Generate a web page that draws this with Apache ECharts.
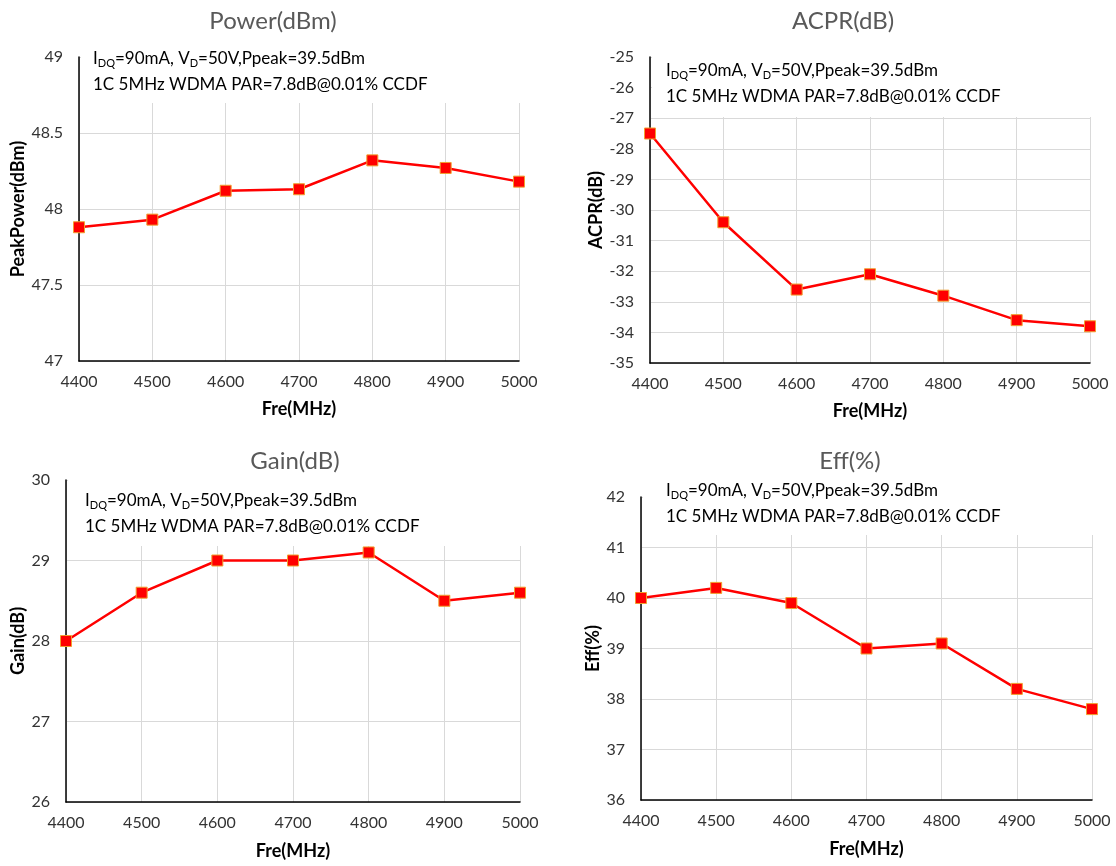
<!DOCTYPE html>
<html><head><meta charset="utf-8">
<script src="https://cdn.jsdelivr.net/npm/echarts@6/dist/echarts.min.js"></script>
<style>html,body{margin:0;padding:0;background:#fff}#c{width:1116px;height:866px}</style>
</head><body><div id="c"></div>
<script>
const freq = [4400, 4500, 4600, 4700, 4800, 4900, 5000];
const power = [47.88, 47.93, 48.12, 48.13, 48.32, 48.27, 48.18];
const acpr = [-27.5, -30.4, -32.6, -32.1, -32.8, -33.6, -33.8];
const gain = [28.0, 28.6, 29.0, 29.0, 29.1, 28.5, 28.6];
const eff = [40.0, 40.2, 39.9, 39.0, 39.1, 38.2, 37.8];
const titles = ['Power(dBm)', 'ACPR(dB)', 'Gain(dB)', 'Eff(%)'];
const yNames = ['PeakPower(dBm)', 'ACPR(dB)', 'Gain(dB)', 'Eff(%)'];
const yRanges = [[47, 49, 0.5], [-35, -25, 1], [26, 30, 1], [36, 42, 1]];
const xName = 'Fre(MHz)';
const note1 = ['I', 'DQ', '=90mA, V', 'D', '=50V,Ppeak=39.5dBm'];
const note2 = '1C 5MHz WDMA PAR=7.8dB@0.01% CCDF';

const FONT = 'Lato';
const grids = [
  {left: 79, top: 57, width: 440, height: 304},
  {left: 650, top: 57, width: 440, height: 306},
  {left: 66, top: 480, width: 454, height: 322},
  {left: 641, top: 497, width: 451, height: 303}
];
const yNameGaps = [52, 43, 39, 36];
const xNameGaps = [39, 39, 40, 40];
const titleX = [268, 838, 290, 845];
const titleY = [4, 4, 444, 444];
const notePos = [[93, 46], [666, 58], [85, 488], [666, 478]];
const maskBox = [[81, 40, 445, 63], [652, 50, 445, 67], [68, 470, 458, 76], [643, 465, 455, 70]];
const series = [power, acpr, gain, eff];

const option = {
  animation: false,
  title: titles.map((t, i) => ({
    text: t, left: titleX[i], top: titleY[i], textAlign: 'center',
    textStyle: {fontFamily: FONT, fontSize: 24, fontWeight: 'normal', color: '#595959'}
  })),
  grid: grids.map(g => Object.assign({containLabel: false}, g)),
  xAxis: grids.map((g, i) => ({
    gridIndex: i, type: 'value', min: 4400, max: 5000, interval: 100,
    name: xName, nameLocation: 'middle', nameGap: xNameGaps[i],
    nameTextStyle: {fontFamily: FONT, fontSize: 18, fontWeight: 'bold', color: '#000'},
    axisLine: {show: true, onZero: false, lineStyle: {color: '#000', width: 1.5}},
    axisTick: {show: false},
    axisLabel: {fontFamily: FONT, fontSize: 16, color: '#333', margin: 13, formatter: v => String(v)},
    splitLine: {show: true, lineStyle: {color: '#d9d9d9', width: 1}}
  })),
  yAxis: grids.map((g, i) => ({
    gridIndex: i, type: 'value', min: yRanges[i][0], max: yRanges[i][1], interval: yRanges[i][2],
    name: yNames[i], nameLocation: 'middle', nameGap: yNameGaps[i],
    nameTextStyle: {fontFamily: FONT, fontSize: 18, fontWeight: 'bold', color: '#000'},
    axisLine: {show: true, onZero: false, lineStyle: {color: '#000', width: 1.5}},
    axisTick: {show: false},
    axisLabel: {fontFamily: FONT, fontSize: 16, color: '#333', margin: 16, formatter: v => String(v)},
    splitLine: {show: true, lineStyle: {color: '#d9d9d9', width: 1}}
  })),
  graphic: notePos.map((p, i) => ({
    type: 'group', z: 1,
    children: [
      {type: 'rect', shape: {x: maskBox[i][0], y: maskBox[i][1], width: maskBox[i][2], height: maskBox[i][3]}, style: {fill: '#fff'}, z: 1},
      {type: 'text', x: p[0], y: p[1], z: 1, style: {
        rich: {
          n: {fontFamily: FONT, fontSize: 17, fill: '#000', lineHeight: 26},
          s: {fontFamily: FONT, fontSize: 11, fill: '#000', padding: [8, 0, 0, 0], lineHeight: 26}
        },
        text: '{n|' + note1[0] + '}{s|' + note1[1] + '}{n|' + note1[2] + '}{s|' + note1[3] + '}{n|' + note1[4] + '}\n{n|' + note2 + '}'
      }}
    ]
  })),
  series: series.map((d, i) => ({
    type: 'line', xAxisIndex: i, yAxisIndex: i,
    data: freq.map((f, k) => [f, d[k]]),
    symbol: 'rect', symbolSize: 11,
    lineStyle: {color: '#ff0000', width: 2.5},
    itemStyle: {color: '#ff0000', borderColor: '#f0a030', borderWidth: 1},
    z: 3
  }))
};
echarts.init(document.getElementById('c')).setOption(option);
</script></body></html>
